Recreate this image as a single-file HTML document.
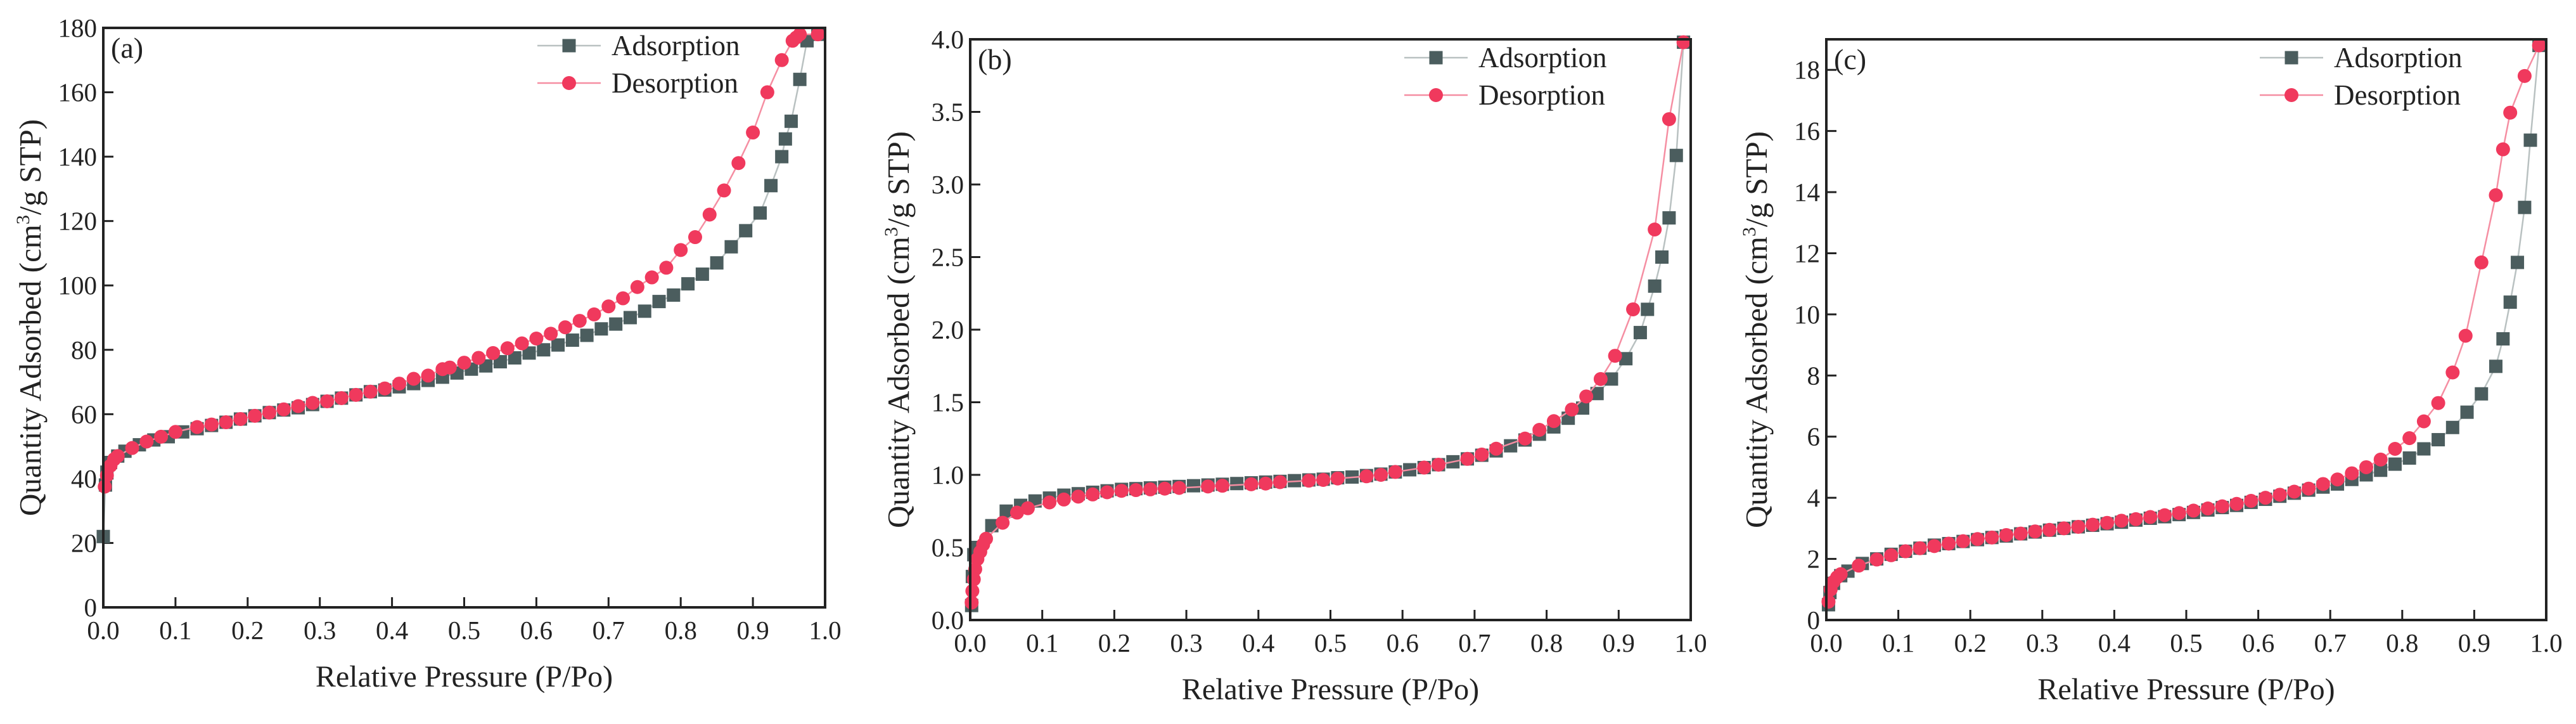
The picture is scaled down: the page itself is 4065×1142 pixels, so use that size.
<!DOCTYPE html>
<html><head><meta charset="utf-8">
<style>
html,body{margin:0;padding:0;background:#fff;}
svg{display:block;font-family:"Liberation Serif",serif;}
</style></head>
<body>
<svg id="fig" width="4065" height="1142" viewBox="0 0 4065 1142" xmlns="http://www.w3.org/2000/svg"></svg>
<script>
const xTicks=[0,0.1,0.2,0.3,0.4,0.5,0.6,0.7,0.8,0.9,1.0];
const xTickLabels=["0.0","0.1","0.2","0.3","0.4","0.5","0.6","0.7","0.8","0.9","1.0"];

const aAdsX=[0.0,0.003,0.005,0.01,0.02,0.03,0.05,0.07,0.09,0.11,0.13,0.15,0.17,0.19,0.21,0.23,0.25,0.27,0.29,0.31,0.33,0.35,0.37,0.39,0.41,0.43,0.45,0.47,0.49,0.51,0.53,0.55,0.57,0.59,0.61,0.63,0.65,0.67,0.69,0.71,0.73,0.75,0.77,0.79,0.81,0.83,0.85,0.87,0.89,0.91,0.925,0.94,0.945,0.953,0.965,0.975,0.99];
const aAdsY=[22,38,42,45,47,48.5,50.5,52,53,54.5,55.5,56.5,57.5,58.5,59.5,60.5,61.3,62,63,64,65,66,67,67.5,68.5,69.5,70.5,71.5,72.8,74,75,76.3,77.5,79,80,81.5,83,84.5,86.5,88,90,92,95,97,100.5,103.5,107,112,117,122.5,131,140,145.5,151,164,176,178];
const aDesX=[0.99,0.965,0.96,0.955,0.94,0.92,0.9,0.88,0.86,0.84,0.82,0.80,0.78,0.76,0.74,0.72,0.70,0.68,0.66,0.64,0.62,0.60,0.58,0.56,0.54,0.52,0.50,0.48,0.47,0.45,0.43,0.41,0.39,0.37,0.35,0.33,0.31,0.29,0.27,0.25,0.23,0.21,0.19,0.17,0.15,0.13,0.10,0.08,0.06,0.04,0.02,0.015,0.01,0.005,0.002];
const aDesY=[178,178,177,176,170,160,147.5,138,129.5,122,115,111,105.5,102.5,99.5,96,93.5,91,89,87,85,83.5,82,80.5,79,77.5,76,74.5,74,72,71,69.5,68,67,66,65,64,63.5,62.5,61.5,60.5,59.5,58.5,57.5,56.8,56,54.5,53,51.5,49.5,47,46,44,41,37.5];
const aYTicks=[0,20,40,60,80,100,120,140,160,180];

const bAdsX=[0.002,0.003,0.005,0.01,0.03,0.05,0.07,0.09,0.11,0.13,0.15,0.17,0.19,0.21,0.23,0.25,0.27,0.29,0.31,0.33,0.35,0.37,0.39,0.41,0.43,0.45,0.47,0.49,0.51,0.53,0.55,0.57,0.59,0.61,0.63,0.65,0.67,0.69,0.71,0.73,0.75,0.77,0.79,0.81,0.83,0.85,0.87,0.89,0.91,0.93,0.94,0.95,0.96,0.97,0.98,0.99];
const bAdsY=[0.1,0.3,0.45,0.5,0.65,0.75,0.79,0.82,0.84,0.86,0.87,0.88,0.89,0.9,0.905,0.91,0.915,0.92,0.925,0.93,0.935,0.94,0.945,0.95,0.955,0.96,0.965,0.97,0.98,0.985,0.995,1.005,1.02,1.035,1.05,1.07,1.09,1.11,1.135,1.165,1.2,1.24,1.28,1.33,1.39,1.46,1.56,1.66,1.8,1.98,2.14,2.3,2.5,2.77,3.2,3.98];
const bDesX=[0.99,0.97,0.95,0.92,0.895,0.875,0.855,0.835,0.81,0.79,0.77,0.73,0.71,0.69,0.65,0.63,0.59,0.57,0.55,0.51,0.49,0.47,0.43,0.41,0.39,0.35,0.33,0.29,0.27,0.25,0.23,0.21,0.19,0.17,0.15,0.13,0.11,0.08,0.065,0.045,0.022,0.018,0.014,0.01,0.007,0.005,0.003,0.002];
const bDesY=[3.98,3.45,2.69,2.14,1.82,1.66,1.54,1.45,1.37,1.31,1.25,1.18,1.14,1.11,1.07,1.05,1.02,1.0,0.99,0.975,0.965,0.96,0.95,0.94,0.935,0.925,0.92,0.91,0.905,0.9,0.895,0.89,0.88,0.865,0.85,0.83,0.81,0.77,0.74,0.67,0.56,0.52,0.47,0.42,0.35,0.28,0.2,0.12];
const bYTicks=[0,0.5,1.0,1.5,2.0,2.5,3.0,3.5,4.0];
const bYTickLabels=["0.0","0.5","1.0","1.5","2.0","2.5","3.0","3.5","4.0"];

const cAdsX=[0.003,0.005,0.01,0.02,0.03,0.05,0.07,0.09,0.11,0.13,0.15,0.17,0.19,0.21,0.23,0.25,0.27,0.29,0.31,0.33,0.35,0.37,0.39,0.41,0.43,0.45,0.47,0.49,0.51,0.53,0.55,0.57,0.59,0.61,0.63,0.65,0.67,0.69,0.71,0.73,0.75,0.77,0.79,0.81,0.83,0.85,0.87,0.89,0.91,0.93,0.94,0.95,0.96,0.97,0.978,0.99];
const cAdsY=[0.5,0.9,1.2,1.45,1.6,1.85,2.0,2.15,2.25,2.35,2.45,2.5,2.57,2.63,2.7,2.75,2.82,2.88,2.94,3.0,3.05,3.1,3.15,3.2,3.27,3.33,3.38,3.45,3.52,3.6,3.68,3.75,3.85,3.95,4.05,4.15,4.25,4.35,4.45,4.6,4.75,4.9,5.1,5.3,5.6,5.9,6.3,6.8,7.4,8.3,9.2,10.4,11.7,13.5,15.7,18.8];
const cDesX=[0.99,0.97,0.95,0.94,0.93,0.91,0.888,0.87,0.85,0.83,0.81,0.79,0.77,0.75,0.73,0.71,0.69,0.67,0.65,0.63,0.61,0.59,0.57,0.55,0.53,0.51,0.49,0.47,0.45,0.43,0.41,0.39,0.37,0.35,0.33,0.31,0.29,0.27,0.25,0.23,0.21,0.19,0.17,0.15,0.13,0.11,0.09,0.07,0.045,0.02,0.015,0.01,0.006,0.003];
const cDesY=[18.8,17.8,16.6,15.4,13.9,11.7,9.3,8.1,7.1,6.5,5.95,5.6,5.25,5.0,4.8,4.6,4.45,4.3,4.2,4.1,4.0,3.9,3.8,3.72,3.65,3.58,3.5,3.43,3.37,3.3,3.25,3.18,3.12,3.05,3.0,2.95,2.9,2.83,2.78,2.7,2.65,2.58,2.5,2.42,2.35,2.25,2.12,1.98,1.78,1.5,1.4,1.25,1.0,0.6];
const cYTicks=[0,2,4,6,8,10,12,14,16,18];

const NS="http://www.w3.org/2000/svg";
const svg=document.getElementById('fig');
function mk(tag,attrs,parent){const e=document.createElementNS(NS,tag);for(const k in attrs)e.setAttribute(k,attrs[k]);(parent||svg).appendChild(e);return e;}

const ADS="#4b5d5e", ADSLINE="#b9c1c1", DES="#f0395d", DESLINE="#f58ea2";

function panel(cfg){
  const g=mk('g',{});
  
  
  const L=cfg.L,R=cfg.R,T=cfg.T,B=cfg.B;
  const sx=v=>L+(R-L)*v;
  const sy=v=>B-(B-T)*v/cfg.ymax;
  xTicks.forEach((t,i)=>{
    const tk=mk('line',{x1:sx(t),x2:sx(t),y1:B,y2:B-16,stroke:'#222','stroke-width':3},g);
    
    
    const tx=mk('text',{x:sx(t),y:B+50,'font-size':41,'text-anchor':'middle',fill:'#222'},g);
    tx.textContent=xTickLabels[i];
    
    
  });
  cfg.yt.forEach((t,i)=>{
    const tk=mk('line',{x1:L,x2:L+16,y1:sy(t),y2:sy(t),stroke:'#222','stroke-width':3},g);
    
    
    const tx=mk('text',{x:L-10,y:sy(t)+14,'font-size':41,'text-anchor':'end',fill:'#222'},g);
    tx.textContent=cfg.ytl?cfg.ytl[i]:String(t);
    
    
  });
  function series(xs,ys,lineCol,col,shape,name){
    const pts=xs.map((x,i)=>sx(x)+','+sy(ys[i])).join(' ');
    const pl=mk('polyline',{points:pts,fill:'none',stroke:lineCol,'stroke-width':2.5},g);
    
    
    xs.forEach((x,i)=>{
      let m;
      if(shape==='sq') m=mk('rect',{x:sx(x)-10.5,y:sy(ys[i])-10.5,width:21,height:21,fill:col},g);
      else m=mk('circle',{cx:sx(x),cy:sy(ys[i]),r:11,fill:col},g);
      
      
    });
  }
  series(cfg.ax,cfg.ay,ADSLINE,ADS,'sq','adsorption');
  series(cfg.dx,cfg.dy,DESLINE,DES,'ci','desorption');
  const fr=mk('rect',{x:L,y:T,width:R-L,height:B-T,fill:'none',stroke:'#222','stroke-width':4},g);
  
  
  const pl=mk('text',{x:L+12,y:T+47,'font-size':46,fill:'#222'},g);
  pl.textContent='('+cfg.id+')';
  
  
  const lg=mk('g',{},g);
  
  
  [[cfg.leg1,ADSLINE,ADS,'sq','Adsorption'],[cfg.leg1+59,DESLINE,DES,'ci','Desorption']].forEach(r=>{
    const y=r[0];
    const e=mk('g',{},lg);
    
    
    mk('line',{x1:cfg.lx,x2:cfg.lx+100,y1:y,y2:y,stroke:r[1],'stroke-width':2.5},e);
    if(r[3]==='sq') mk('rect',{x:cfg.lx+39.5,y:y-10.5,width:21,height:21,fill:r[2]},e);
    else mk('circle',{cx:cfg.lx+50,cy:y,r:11,fill:r[2]},e);
    const t=mk('text',{x:cfg.lx+117,y:y+15,'font-size':45,fill:'#222'},e);
    t.textContent=r[4];
  });
  const xt=mk('text',{x:(L+R)/2,y:B+125,'font-size':48,'text-anchor':'middle',fill:'#222'},g);
  xt.textContent='Relative Pressure (P/Po)';
  
  
  const yt=mk('text',{x:0,y:0,'font-size':49,'text-anchor':'middle',fill:'#222',transform:'translate('+(cfg.ylx)+','+((T+B)/2)+') rotate(-90)'},g);
  yt.innerHTML='Quantity Adsorbed (cm<tspan font-size="30" dy="-18">3</tspan><tspan dy="18">/g STP)</tspan>';
  
  
}

panel({id:'a',L:163,R:1302,T:44,B:958,ymax:180,yt:aYTicks,ax:aAdsX,ay:aAdsY,dx:aDesX,dy:aDesY,lx:848,leg1:72,ylx:64});
panel({id:'b',L:1531,R:2668,T:62,B:978,ymax:4.0,yt:bYTicks,ytl:bYTickLabels,ax:bAdsX,ay:bAdsY,dx:bDesX,dy:bDesY,lx:2216,leg1:91,ylx:1434});
panel({id:'c',L:2882,R:4018,T:62,B:978,ymax:19,yt:cYTicks,ax:cAdsX,ay:cAdsY,dx:cDesX,dy:cDesY,lx:3566,leg1:91,ylx:2788});
</script>
</body></html>
